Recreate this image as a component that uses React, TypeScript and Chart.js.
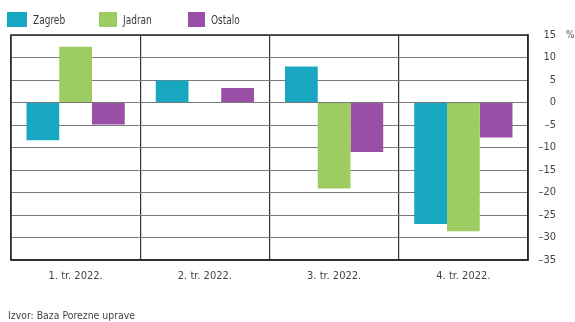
import React, { useEffect, useRef } from "react";
import { Chart, registerables } from "chart.js";

Chart.register(...registerables);

const categories = ["1. tr. 2022.", "2. tr. 2022.", "3. tr. 2022.", "4. tr. 2022."];
const zagreb = [-8.4, 4.9, 8.0, -27.0];
const jadran = [12.4, 0, -19.1, -28.6];
const ostalo = [-4.9, 3.2, -11.0, -7.8];
const seriesNames = ["Zagreb", "Jadran", "Ostalo"];
const seriesColors = ["#17a7c1", "#9dcc62", "#9a4fa6"];
const yMin = -35;
const yMax = 15;
const yStep = 5;
const sourceText = "Izvor: Baza Porezne uprave";
const unitLabel = "%";

const FONT = "'DejaVu Sans Condensed', 'Liberation Sans Narrow', 'Liberation Sans', Arial, sans-serif";

const boxPlugin = {
  id: "plotBox",
  afterDraw(chart: any) {
    const { ctx, chartArea } = chart;
    ctx.save();
    ctx.strokeStyle = "#2a2a2a";
    ctx.lineWidth = 1.5;
    ctx.strokeRect(chartArea.left, chartArea.top, chartArea.right - chartArea.left, chartArea.bottom - chartArea.top);
    ctx.restore();
  },
};

export default function App() {
  const ref = useRef<HTMLCanvasElement | null>(null);

  useEffect(() => {
    if (!ref.current) return;
    const chart = new Chart(ref.current, {
      type: "bar",
      data: {
        labels: categories,
        datasets: [zagreb, jadran, ostalo].map((d, i) => ({
          label: seriesNames[i],
          data: d,
          backgroundColor: seriesColors[i],
          borderWidth: 0,
          categoryPercentage: 0.76,
          barPercentage: 1,
        })),
      },
      options: {
        responsive: false,
        animation: false,
        layout: { padding: { left: 11, top: 35, right: 19, bottom: 22 } },
        plugins: {
          legend: { display: false },
          tooltip: { enabled: false },
          title: { display: false },
        },
        scales: {
          x: {
            afterFit: (s: any) => {
              s.height = 40;
            },
            grid: { color: "#333", lineWidth: 1.2, drawTicks: false, offset: true },
            border: { display: true, color: "#2a2a2a", width: 1.5 },
            ticks: { font: { family: FONT, size: 11 }, color: "#444", padding: 10 },
          },
          y: {
            position: "right",
            min: yMin,
            max: yMax,
            afterFit: (s: any) => {
              s.width = 28;
            },
            grid: { color: "#7a7a7a", lineWidth: 1, drawTicks: false },
            border: { display: true, color: "#2a2a2a", width: 1.5 },
            ticks: {
              stepSize: yStep,
              crossAlign: "far",
              padding: 4,
              font: { family: FONT, size: 11 },
              color: "#444",
              callback: (v: any) => (v < 0 ? "\u2013" + Math.abs(v) : String(v)),
            },
          },
        },
      },
      plugins: [boxPlugin],
    } as any);
    return () => chart.destroy();
  }, []);

  const legendLeft = [7, 99, 188];
  const boxW = [20, 18, 17];

  return (
    <div style={{ position: "fixed", left: 0, top: 0, width: 575, height: 322, background: "#fff", fontFamily: FONT }}>
      <canvas ref={ref} width={575} height={322} style={{ position: "absolute", left: 0, top: 0 }} />
      {seriesNames.map((n, i) => (
        <div key={n} style={{ position: "absolute", left: legendLeft[i], top: 12, height: 15, display: "flex", alignItems: "center" }}>
          <span style={{ display: "inline-block", width: boxW[i], height: 15, background: seriesColors[i] }} />
          <span
            style={{
              marginLeft: 6,
              fontSize: 12.5,
              color: "#3a3a3a",
              lineHeight: "15px",
              display: "inline-block",
              transform: "scaleX(0.8)",
              transformOrigin: "left center",
              whiteSpace: "nowrap",
            }}
          >
            {n}
          </span>
        </div>
      ))}
      <div style={{ position: "absolute", left: 566, top: 29, fontSize: 10, color: "#555" }}>{unitLabel}</div>
      <div style={{ position: "absolute", left: 8, top: 309, fontSize: 10.4, color: "#444", lineHeight: "12px", whiteSpace: "nowrap" }}>{sourceText}</div>
    </div>
  );
}
